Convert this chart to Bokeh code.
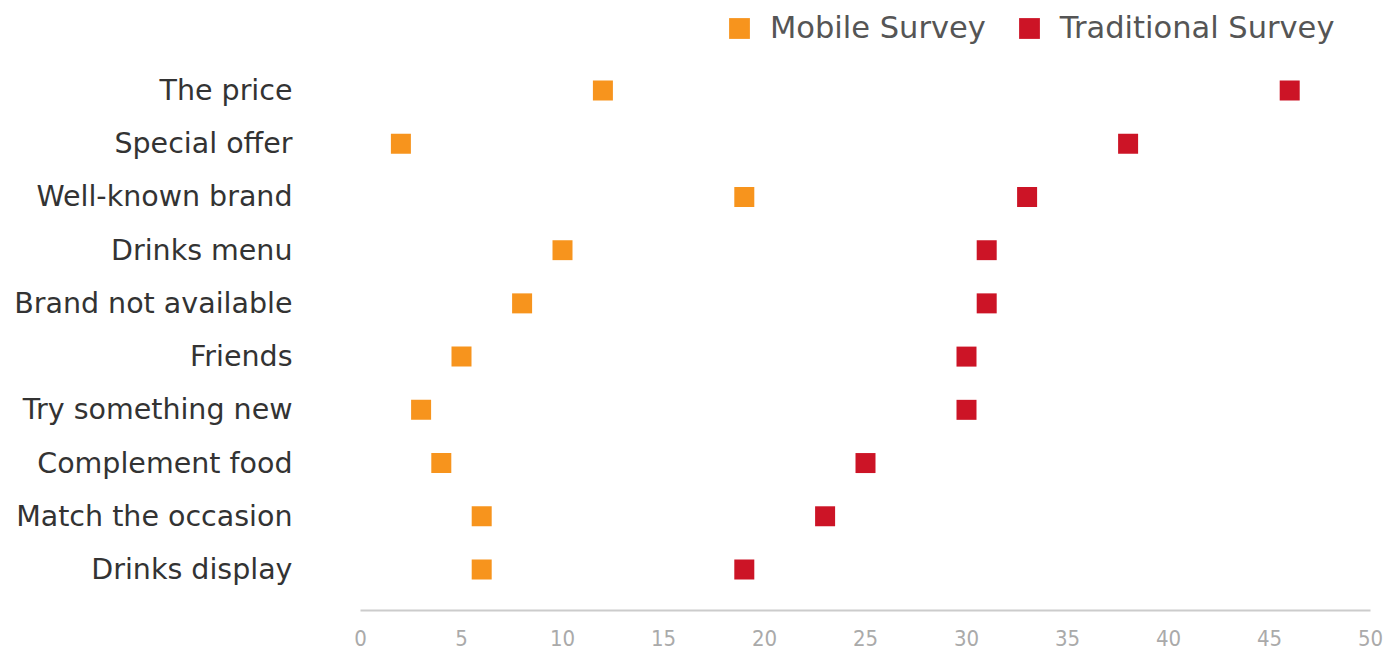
from bokeh.plotting import figure
from bokeh.models import Legend, LegendItem, SingleIntervalTicker, FixedTicker, ColumnDataSource, Range1d
from bokeh.embed import file_html
from bokeh.resources import INLINE

categories = ["The price", "Special offer", "Well-known brand", "Drinks menu",
              "Brand not available", "Friends", "Try something new",
              "Complement food", "Match the occasion", "Drinks display"]
mobile = [12, 2, 19, 10, 8, 5, 3, 4, 6, 6]
traditional = [46, 38, 33, 31, 31, 30, 30, 25, 23, 19]

n = len(categories)
ypos = [n - 1 - i for i in range(n)]  # first category at top

p = figure(width=1387, height=653, output_backend="svg", toolbar_location=None,
           x_range=Range1d(0, 50), y_range=Range1d(-0.77, n - 1 + 1.69),
           min_border_left=360, min_border_right=17, min_border_top=0, min_border_bottom=43)

src = ColumnDataSource(dict(y=ypos, cat=categories, mobile=mobile, traditional=traditional))
r1 = p.rect("mobile", "y", width=20, height=20, width_units="screen", height_units="screen",
            source=src, fill_color="#F7941D", line_color=None)
r2 = p.rect("traditional", "y", width=20, height=20, width_units="screen", height_units="screen",
            source=src, fill_color="#CC1426", line_color=None)

p.xgrid.grid_line_color = None
p.ygrid.grid_line_color = None
p.outline_line_color = None

p.xaxis.ticker = SingleIntervalTicker(interval=5)
p.xaxis.axis_line_color = "#cccccc"
p.xaxis.axis_line_width = 2
p.xaxis.major_tick_line_color = None
p.xaxis.minor_tick_line_color = None
p.xaxis.major_label_text_color = "#aaaaaa"
p.xaxis.major_label_text_font = "DejaVu Sans Condensed"
p.xaxis.major_label_text_font_size = "22px"
p.xaxis.major_label_standoff = 13

p.yaxis.ticker = FixedTicker(ticks=ypos)
p.yaxis.major_label_overrides = {y: c for y, c in zip(ypos, categories)}
p.yaxis.axis_line_color = None
p.yaxis.major_tick_line_color = None
p.yaxis.minor_tick_line_color = None
p.yaxis.major_label_text_color = "#333333"
p.yaxis.major_label_text_font = "DejaVu Sans"
p.yaxis.major_label_text_font_size = "28.5px"
p.yaxis.major_label_standoff = 62

legend = Legend(items=[LegendItem(label="Mobile Survey", renderers=[r1]),
                       LegendItem(label="Traditional Survey", renderers=[r2])],
                orientation="horizontal", location=(366, 565),
                label_text_font="DejaVu Sans", label_text_font_size="30.5px",
                label_text_color="#555555", glyph_width=26, glyph_height=26,
                spacing=30, padding=0, margin=0, border_line_color=None,
                background_fill_alpha=0, label_standoff=18)
p.add_layout(legend)

open("out.html", "w").write(file_html(p, INLINE))
